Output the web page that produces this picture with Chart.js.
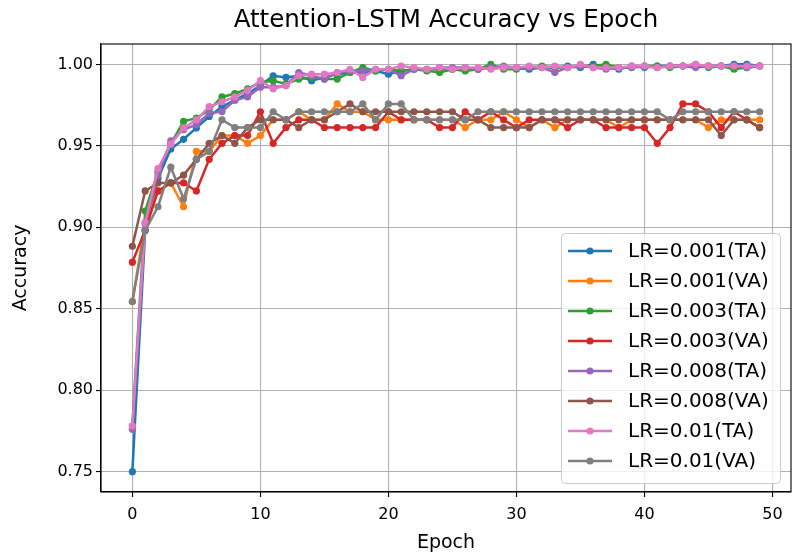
<!DOCTYPE html>
<html>
<head>
<meta charset="utf-8">
<script src="https://cdn.jsdelivr.net/npm/chart.js"></script>
<style>
  html, body { margin: 0; padding: 0; background: #fff; }
</style>
</head>
<body>
<canvas id="myChart" width="795" height="555"></canvas>
<script>
// ---- data ----
const epochs = [0,1,2,3,4,5,6,7,8,9,10,11,12,13,14,15,16,17,18,19,20,21,22,23,24,
                25,26,27,28,29,30,31,32,33,34,35,36,37,38,39,40,41,42,43,44,45,46,47,48,49];
const xTicks = [0, 10, 20, 30, 40, 50];
const yTicks = [0.75, 0.80, 0.85, 0.90, 0.95, 1.00];
const chartTitle = 'Attention-LSTM Accuracy vs Epoch';

const lr001TA = [0.750,0.898,0.930,0.948,0.954,0.961,0.968,0.974,0.978,0.982,
                 0.987,0.993,0.992,0.993,0.990,0.992,0.994,0.995,0.995,0.996,
                 0.994,0.996,0.997,0.997,0.997,0.997,0.998,0.997,0.998,0.998,
                 0.998,0.997,0.998,0.998,0.999,0.998,1.000,0.998,0.997,0.999,
                 0.998,0.999,0.999,0.999,0.999,0.999,0.999,1.000,1.000,0.999];
const lr001VA = [0.8544,0.9029,0.9223,0.9272,0.9126,0.9466,0.9466,0.9563,0.9563,0.9515,
                 0.9563,0.9660,0.9660,0.9709,0.9660,0.9660,0.9757,0.9709,0.9709,0.9660,
                 0.9660,0.9660,0.9660,0.9660,0.9660,0.9660,0.9612,0.9660,0.9660,0.9709,
                 0.9660,0.9612,0.9660,0.9612,0.9660,0.9660,0.9660,0.9660,0.9612,0.9660,
                 0.9660,0.9660,0.9660,0.9660,0.9660,0.9612,0.9660,0.9660,0.9660,0.9660];
const lr003TA = [0.778,0.910,0.934,0.951,0.965,0.967,0.972,0.980,0.982,0.985,
                 0.989,0.990,0.988,0.991,0.992,0.991,0.991,0.995,0.998,0.996,
                 0.997,0.996,0.997,0.996,0.995,0.997,0.996,0.997,1.000,0.997,
                 0.997,0.998,0.999,0.998,0.998,0.999,0.999,1.000,0.998,0.998,
                 0.999,0.999,0.998,0.999,1.000,0.998,0.999,0.997,0.998,0.999];
const lr003VA = [0.8786,0.8981,0.9223,0.9272,0.9272,0.9223,0.9417,0.9515,0.9563,0.9563,
                 0.9709,0.9515,0.9612,0.9660,0.9660,0.9612,0.9612,0.9612,0.9612,0.9612,
                 0.9709,0.9660,0.9660,0.9660,0.9612,0.9612,0.9709,0.9660,0.9709,0.9660,
                 0.9612,0.9660,0.9660,0.9660,0.9612,0.9660,0.9660,0.9612,0.9612,0.9612,
                 0.9612,0.9515,0.9612,0.9757,0.9757,0.9709,0.9612,0.9709,0.9660,0.9612];
const lr008TA = [0.776,0.902,0.932,0.953,0.960,0.963,0.970,0.971,0.978,0.980,
                 0.986,0.986,0.987,0.995,0.993,0.991,0.995,0.996,0.996,0.997,
                 0.997,0.993,0.997,0.997,0.998,0.998,0.998,0.997,0.998,0.999,
                 0.998,0.998,0.998,0.995,0.998,0.999,0.998,0.997,0.998,0.998,
                 0.999,0.998,0.999,0.999,0.998,0.999,0.999,0.999,0.998,0.999];
const lr008VA = [0.8883,0.9223,0.9272,0.9272,0.9320,0.9417,0.9515,0.9563,0.9515,0.9612,
                 0.9660,0.9660,0.9660,0.9612,0.9660,0.9660,0.9709,0.9757,0.9709,0.9709,
                 0.9709,0.9709,0.9709,0.9709,0.9709,0.9709,0.9660,0.9660,0.9612,0.9612,
                 0.9612,0.9612,0.9660,0.9660,0.9660,0.9660,0.9660,0.9660,0.9660,0.9660,
                 0.9660,0.9660,0.9660,0.9660,0.9660,0.9660,0.9563,0.9660,0.9660,0.9612];
const lr01TA  = [0.778,0.903,0.936,0.951,0.961,0.966,0.974,0.977,0.980,0.984,
                 0.990,0.985,0.987,0.993,0.994,0.994,0.995,0.997,0.992,0.997,
                 0.997,0.999,0.998,0.997,0.998,0.997,0.998,0.998,0.997,0.998,
                 0.998,0.999,0.998,0.999,0.998,1.000,0.998,0.998,0.998,0.999,
                 0.999,0.998,0.999,0.999,1.000,0.999,0.999,0.999,0.999,0.999];
const lr01VA  = [0.8544,0.8981,0.9126,0.9369,0.9175,0.9417,0.9466,0.9660,0.9612,0.9612,
                 0.9612,0.9709,0.9660,0.9709,0.9709,0.9709,0.9709,0.9709,0.9757,0.9660,
                 0.9757,0.9757,0.9660,0.9660,0.9660,0.9660,0.9660,0.9709,0.9709,0.9709,
                 0.9709,0.9709,0.9709,0.9709,0.9709,0.9709,0.9709,0.9709,0.9709,0.9709,
                 0.9709,0.9709,0.9660,0.9709,0.9709,0.9709,0.9709,0.9709,0.9709,0.9709];

const seriesNames = ['LR=0.001(TA)','LR=0.001(VA)','LR=0.003(TA)','LR=0.003(VA)',
                     'LR=0.008(TA)','LR=0.008(VA)','LR=0.01(TA)','LR=0.01(VA)'];
const seriesValues = [lr001TA, lr001VA, lr003TA, lr003VA, lr008TA, lr008VA, lr01TA, lr01VA];
const seriesColors = ['#1f77b4','#ff7f0e','#2ca02c','#d62728','#9467bd','#8c564b','#e377c2','#7f7f7f'];

Chart.defaults.font.family = '"DejaVu Sans", sans-serif';
Chart.defaults.color = '#000';

// title centred over the axes, like matplotlib
const axesTitle = {
    id: 'axesTitle',
    afterDraw(chart) {
        const {ctx, chartArea} = chart;
        ctx.save();
        ctx.font = '24.5px "DejaVu Sans"';
        ctx.fillStyle = '#000';
        ctx.textAlign = 'center';
        ctx.textBaseline = 'middle';
        ctx.fillText(chartTitle, (chartArea.left + chartArea.right) / 2, 21);
        ctx.restore();
    }
};

// full box around the plot + legend inside lower right
const frameAndLegend = {
    id: 'frameAndLegend',
    afterDatasetsDraw(chart) {
        const {ctx, chartArea} = chart;
        ctx.save();
        ctx.strokeStyle = '#000';
        ctx.lineWidth = 1.1;
        ctx.strokeRect(chartArea.left, chartArea.top,
                       chartArea.right - chartArea.left, chartArea.bottom - chartArea.top);

        const w = 219, h = 250, rowH = 30;
        const right = chartArea.right - 11, bottom = chartArea.bottom - 9;
        const left = right - w, top = bottom - h;
        ctx.beginPath();
        ctx.roundRect(left + 0.5, top + 0.5, w, h, 4);
        ctx.fillStyle = 'rgba(255,255,255,0.8)';
        ctx.fill();
        ctx.strokeStyle = '#cccccc';
        ctx.lineWidth = 1;
        ctx.stroke();

        ctx.font = '20px "DejaVu Sans"';
        ctx.textBaseline = 'middle';
        chart.data.datasets.forEach((ds, i) => {
            const y = top + 18 + i * rowH;
            ctx.strokeStyle = ds.borderColor;
            ctx.lineWidth = ds.borderWidth;
            ctx.beginPath();
            ctx.moveTo(left + 7, y);
            ctx.lineTo(left + 51, y);
            ctx.stroke();
            ctx.fillStyle = ds.borderColor;
            ctx.beginPath();
            ctx.arc(left + 29, y, ds.pointRadius, 0, Math.PI * 2);
            ctx.fill();
            ctx.fillStyle = '#000';
            ctx.fillText(ds.label, left + 67, y + 1);
        });
        ctx.restore();
    }
};

const datasets = seriesNames.map((name, i) => ({
    label: name,
    data: epochs.map((e, j) => ({x: e, y: seriesValues[i][j]})),
    borderColor: seriesColors[i],
    backgroundColor: seriesColors[i],
    pointBackgroundColor: seriesColors[i],
    borderWidth: 2.5,
    pointRadius: 3.6,
    pointBorderWidth: 0,
    tension: 0,
    order: seriesNames.length - 1 - i
}));

const gridOpts = {
    color: '#b0b0b0',
    lineWidth: 1.1,
    tickColor: '#000',
    tickLength: 5,
    tickWidth: 1.1
};

const ctx = document.getElementById('myChart');
const chart = new Chart(ctx, {
    type: 'line',
    data: { datasets: datasets },
    options: {
        responsive: false,
        animation: false,
        devicePixelRatio: 1,
        layout: { padding: { top: 44, right: 4, left: 0, bottom: 0 } },
        plugins: {
            legend: { display: false },
            title: { display: false },
            tooltip: { enabled: false }
        },
        scales: {
            x: {
                type: 'linear',
                min: -2.45,
                max: 51.45,
                grid: gridOpts,
                border: { display: true, color: '#000', width: 1.1 },
                ticks: {
                    font: { size: 16 },
                    padding: 8,
                    maxRotation: 0,
                    callback: v => String(v)
                },
                afterBuildTicks: s => { s.ticks = xTicks.map(v => ({value: v})); },
                afterFit: s => { s.height = 63; },
                title: {
                    display: true,
                    text: 'Epoch',
                    font: { size: 19 },
                    padding: { top: 0, bottom: 1 }
                }
            },
            y: {
                type: 'linear',
                min: 0.7375,
                max: 1.0125,
                grid: gridOpts,
                border: { display: true, color: '#000', width: 1.1 },
                ticks: {
                    font: { size: 16 },
                    padding: 3,
                    callback: v => Number(v).toFixed(2)
                },
                afterBuildTicks: s => { s.ticks = yTicks.map(v => ({value: v})); },
                afterFit: s => { s.width = 101; },
                title: {
                    display: true,
                    text: 'Accuracy',
                    font: { size: 19 },
                    padding: { top: 10, bottom: 0 }
                }
            }
        }
    },
    plugins: [axesTitle, frameAndLegend]
});
</script>
</body>
</html>
